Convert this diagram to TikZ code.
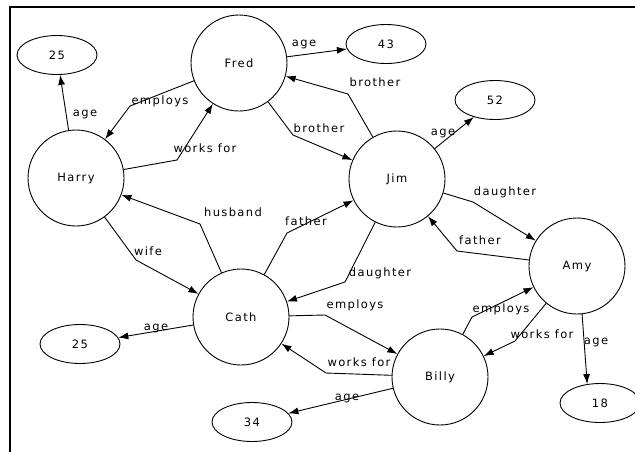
\documentclass[tikz,border=0pt]{standalone}
\usepackage{fontspec}
\newfontfamily\lblfont[LetterSpace=12]{DejaVu Sans}
\usetikzlibrary{shapes.geometric,arrows.meta}
\begin{document}
\begin{tikzpicture}[x=1pt,y=-1pt,
  every node/.style={font=\lblfont\fontsize{11.5}{13}\selectfont},
  person/.style={draw, circle, minimum size=96pt, inner sep=0pt, line width=0.9pt},
  val/.style={draw, ellipse, minimum width=80pt, minimum height=39pt, inner sep=0pt, line width=0.9pt},
  rel/.style={line width=0.9pt, -{Latex[length=10pt,width=7pt]}},
  lbl/.style={inner sep=0pt},
  frame/.style={line width=1.5pt}]
\useasboundingbox (0,0) rectangle (635,451);
% frame
\coordinate (ftr) at (636,7);
\coordinate (ftl) at (10,7);
\coordinate (fbl) at (10,452);
\draw[frame] (ftr) -- (ftl) -- (fbl);
% nodes
\node[person] (fred)  at (239,63)  {Fred};
\node[person] (harry) at (76,178)  {Harry};
\node[person] (jim)   at (397,179) {Jim};
\node[person] (amy)   at (577,266) {Amy};
\node[person] (cath)  at (241,317) {Cath};
\node[person] (billy) at (440,377) {Billy};
\node[val] (v25a) at (57,55)   {25};
\node[val] (v43)  at (386,44)  {43};
\node[val] (v52)  at (495,100) {52};
\node[val] (v25b) at (80,344)  {25};
\node[val] (v34)  at (252,422) {34};
\node[val] (v18)  at (600,403) {18};
% bend points
\coordinate (b2)  at (130,106);
\coordinate (b3)  at (177,160);
\coordinate (b5)  at (348,94);
\coordinate (b6)  at (293,135);
\coordinate (b8)  at (473,202);
\coordinate (b9)  at (457,251);
\coordinate (b10) at (345,282);
\coordinate (b11) at (287,233);
\coordinate (b12) at (200,224);
\coordinate (b13) at (136,260);
\coordinate (b15) at (325,315);
\coordinate (b16) at (326,373);
\coordinate (b18) at (472,317);
\coordinate (b19) at (515,341);
% edges
\draw[rel] (harry) -- (v25a);
\draw[rel] (fred) -- (b2) -- (harry);
\draw[rel] (harry) -- (b3) -- (fred);
\draw[rel] (fred) -- (v43);
\draw[rel] (jim) -- (b5) -- (fred);
\draw[rel] (fred) -- (b6) -- (jim);
\draw[rel] (jim) -- (v52);
\draw[rel] (jim) -- (b8) -- (amy);
\draw[rel] (amy) -- (b9) -- (jim);
\draw[rel] (jim) -- (b10) -- (cath);
\draw[rel] (cath) -- (b11) -- (jim);
\draw[rel] (cath) -- (b12) -- (harry);
\draw[rel] (harry) -- (b13) -- (cath);
\draw[rel] (cath) -- (v25b);
\draw[rel] (cath) -- (b15) -- (billy);
\draw[rel] (billy) -- (b16) -- (cath);
\draw[rel] (billy) -- (v34);
\draw[rel] (billy) -- (b18) -- (amy);
\draw[rel] (amy) -- (b19) -- (billy);
\draw[rel] (amy.-84) -- (v18.124);
% labels
\node[lbl] (l1)  at (85,114)  {age};
\node[lbl] (l2)  at (160,101) {employs};
\node[lbl] (l3)  at (205,148) {works for};
\node[lbl] (l4)  at (304,44)  {age};
\node[lbl] (l5)  at (375,82)  {brother};
\node[lbl] (l6)  at (319,128) {brother};
\node[lbl] (l7)  at (443,133) {age};
\node[lbl] (l8)  at (505,192) {daughter};
\node[lbl] (l9)  at (480,240) {father};
\node[lbl] (l10) at (380,273) {daughter};
\node[lbl] (l11) at (306,221) {father};
\node[lbl] (l12) at (233,212) {husband};
\node[lbl] (l13) at (148,251) {wife};
\node[lbl] (l14) at (156,328) {age};
\node[lbl] (l15) at (355,305) {employs};
\node[lbl] (l16) at (359,362) {works for};
\node[lbl] (l17) at (347,398) {age};
\node[lbl] (l18) at (501,309) {employs};
\node[lbl] (l19) at (542,334) {works for};
\node[lbl] (l20) at (596,342) {age};
\end{tikzpicture}
\end{document}
